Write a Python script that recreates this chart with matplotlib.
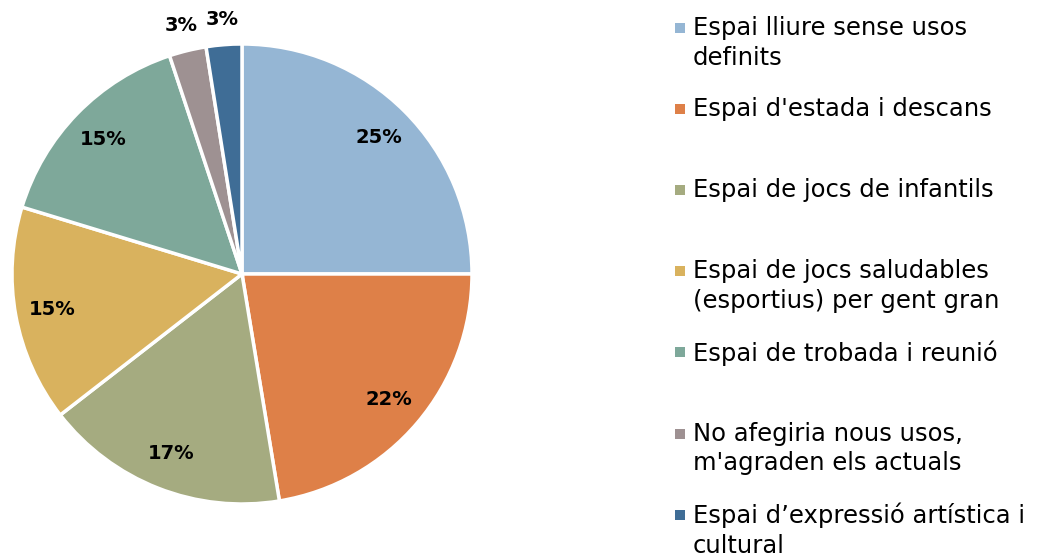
import matplotlib.pyplot as plt
from matplotlib.patches import Rectangle

plt.rcParams['font.family'] = ['DejaVu Sans']

categories = [
    "Espai lliure sense usos\ndefinits",
    "Espai d'estada i descans",
    "Espai de jocs de infantils",
    "Espai de jocs saludables\n(esportius) per gent gran",
    "Espai de trobada i reunió",
    "No afegiria nous usos,\nm'agraden els actuals",
    "Espai d\u2019expressió artística i\ncultural",
]
shares = [25.0, 22.4, 17.1, 15.2, 15.2, 2.6, 2.5]
colors = ['#95b6d4', '#de8048', '#a5ab80', '#d9b25e', '#7ea89a', '#9e9192', '#3f6d96']

W, H = 1038, 555
fig = plt.figure(figsize=(W / 100, H / 100), dpi=100)

# pie axes: center (242, 274), radius ~230 px
cx, cy, r = 242, 274, 230
ax = fig.add_axes([(cx - r) / W, (H - cy - r) / H, 2 * r / W, 2 * r / H])
wedges, texts, autotexts = ax.pie(
    shares, colors=colors, startangle=90, counterclock=False,
    autopct='%.0f%%', pctdistance=0.84,
    wedgeprops=dict(edgecolor='white', linewidth=2.5),
    textprops=dict(fontsize=14, fontweight='bold', color='black'))
ax.set_xlim(-1, 1)
ax.set_ylim(-1, 1)
ax.set_aspect('equal')

# small slices get their labels outside the pie
for i, t in enumerate(autotexts):
    if shares[i] < 5:
        x, y = t.get_position()
        t.set_position((x / 0.84 * 1.11, y / 0.84 * 1.11))

# legend drawn by hand: one row every 81 px
for i, (lab, col) in enumerate(zip(categories, colors)):
    ym = 28 + i * 81.1
    fig.patches.append(Rectangle((675 / W, 1 - (ym + 5) / H), 10 / W, 10 / H,
                                 transform=fig.transFigure, facecolor=col,
                                 edgecolor='none'))
    fig.text(693 / W, 1 - (ym - 12) / H, lab, fontsize=17.5, va='top', ha='left',
             linespacing=1.3, color='black')

fig.savefig('out.png', dpi=100)
